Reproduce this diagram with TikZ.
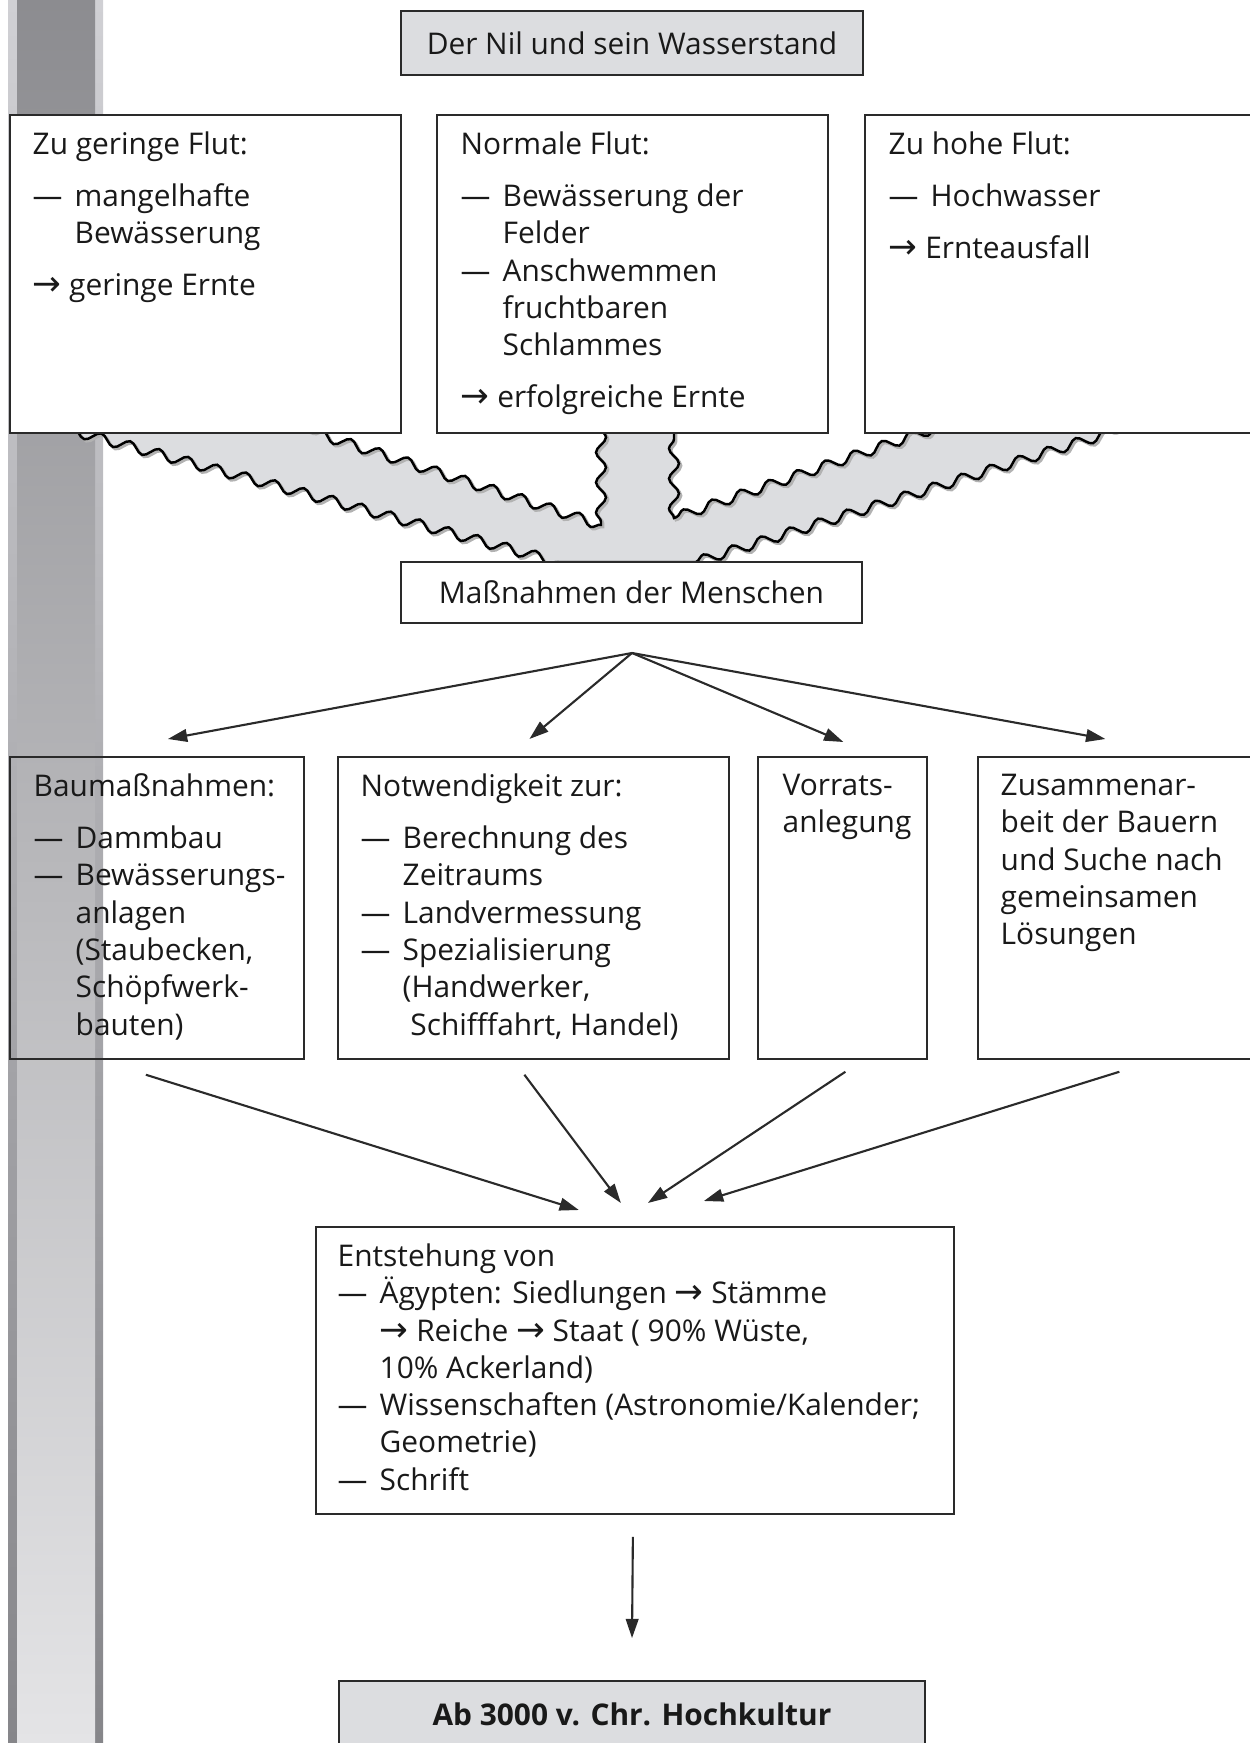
\documentclass[tikz,border=0pt]{standalone}
\usepackage{fontspec}
\setmainfont{Open Sans}
\newfontfamily\pfeilfont[Scale=1.15]{DejaVu Sans}
\usetikzlibrary{arrows.meta,decorations.pathmorphing}
\definecolor{hellgrau}{HTML}{DCDDE0}
\definecolor{linie}{HTML}{2A2A2A}
\definecolor{randoben}{HTML}{D0D0D4}
\definecolor{randunten}{HTML}{86868A}
\definecolor{innenoben}{HTML}{8C8C90}
\definecolor{innenunten}{HTML}{E4E4E6}
\newcommand{\pf}{{\pfeilfont →}}
\newcommand{\str}{\makebox[4.2mm][l]{—}}
\newcommand{\ein}{\hspace*{4.2mm}}
\newcommand{\oben}{\rule{0pt}{7.4pt}}
\newcommand{\wellen}{(62,428) decorate{-- (558,562)} -- (696,562) decorate{-- (1125,428)} -- (935,428) decorate{-- (674,518)} decorate{-- (674,428)} -- (601,428) decorate{-- (601,525)} decorate{-- (300,428)} -- cycle}
\begin{document}
\begin{tikzpicture}[x=0.1mm,y=-0.1mm]
\tikzstyle{every node}=[font=\fontsize{8.5}{10.6}\selectfont, text=black!90]
\tikzstyle{kasten}=[draw=linie, line width=0.5pt, fill=white, anchor=north west, inner sep=0pt]
\tikzstyle{grau}=[kasten, fill=hellgrau, anchor=center]
\tikzstyle{inhalt}=[anchor=north west, inner sep=0pt, align=left]
\tikzstyle{pfeil}=[draw=linie, line width=0.6pt, -{Triangle[length=5.5pt,width=3.6pt]}]
\tikzstyle{welle}=[decoration={snake,segment length=3mm,amplitude=0.5mm}]

\useasboundingbox (0,0) rectangle (1250,1743);
\shade[top color=randoben, bottom color=randunten] (8,0) rectangle (103,1743);
\shade[top color=innenoben, bottom color=innenunten] (17,0) rectangle (95,1743);

\fill[hellgrau, welle] \wellen;
\draw[welle, black!30, line width=0.8pt, shift={(2,2)}] \wellen;
\draw[welle, black, line width=0.7pt] \wellen;

\node[grau, minimum width=46.2mm, minimum height=6.4mm] (titel) at (632,43) {Der Nil und sein Wasserstand};

\node[kasten, minimum width=39.1mm, minimum height=31.8mm] (gering) at (9,114) {};
\node[inhalt] (gering-t) at ([shift={(23,14)}]gering.north west) {\oben Zu geringe Flut:\\[4.2pt]\str mangelhafte\\\ein Bewässerung\\[4.2pt]\pf\ geringe Ernte};
\node[kasten, minimum width=39.1mm, minimum height=31.8mm] (normal) at (436,114) {};
\node[inhalt] (normal-t) at ([shift={(24,14)}]normal.north west) {\oben Normale Flut:\\[4.2pt]\str Bewässerung der\\\ein Felder\\\str Anschwemmen\\\ein fruchtbaren\\\ein Schlammes\\[4.2pt]\pf\ erfolgreiche Ernte};
\node[kasten, minimum width=39.6mm, minimum height=31.8mm] (hoch) at (864,114) {};
\node[inhalt] (hoch-t) at ([shift={(24,14)}]hoch.north west) {\oben Zu hohe Flut:\\[4.2pt]\str Hochwasser\\[4.2pt]\pf\ Ernteausfall};

\node[kasten, anchor=center, minimum width=46.1mm, minimum height=6.1mm] (massn) at (631.5,592.5) {Maßnahmen der Menschen};

\node[kasten, fill=none, minimum width=29.4mm, minimum height=30.2mm] (bau) at (9,756) {};
\node[inhalt] (bau-t) at ([shift={(24,14)}]bau.north west) {\oben Baumaßnahmen:\\[4.2pt]\str Dammbau\\\str Bewässerungs-\\\ein anlagen\\\ein(Staubecken,\\\ein Schöpfwerk-\\\ein bauten)};
\node[kasten, minimum width=39.1mm, minimum height=30.2mm] (notw) at (337,756) {};
\node[inhalt] (notw-t) at ([shift={(23,14)}]notw.north west) {\oben Notwendigkeit zur:\\[4.2pt]\str Berechnung des\\\ein Zeitraums\\\str Landvermessung\\\str Spezialisierung\\\ein(Handwerker,\\\ein\ Schifffahrt, Handel)};
\node[kasten, minimum width=16.9mm, minimum height=30.2mm] (vorrat) at (757,756) {};
\node[inhalt] (vorrat-t) at ([shift={(25,13)}]vorrat.north west) {\oben Vorrats-\\anlegung};
\node[kasten, minimum width=28.3mm, minimum height=30.2mm] (zusam) at (977,756) {};
\node[inhalt] (zusam-t) at ([shift={(23,13)}]zusam.north west) {\oben Zusammenar-\\beit der Bauern\\und Suche nach\\gemeinsamen\\Lösungen};

\node[kasten, minimum width=63.8mm, minimum height=28.7mm] (entst) at (315,1226) {};
\node[inhalt] (entst-t) at ([shift={(22,14)}]entst.north west) {\oben Entstehung von\\\str Ägypten: Siedlungen \pf\ Stämme\\\ein\pf\ Reiche \pf\ Staat ( 90\% Wüste,\\\ein 10\% Ackerland)\\\str Wissenschaften (Astronomie/Kalender;\\\ein Geometrie)\\\str Schrift};

\node[grau, minimum width=58.6mm, minimum height=6.7mm] (kultur) at (632,1714.5) {\textbf{Ab 3000 v. Chr. Hochkultur}};

\coordinate (verteiler) at (632,653);
\draw[pfeil] (verteiler) -- ([shift={(11,-17)}]bau.north);
\draw[pfeil] (verteiler) -- ([shift={(-4,-17)}]notw.north);
\draw[pfeil] (verteiler) -- ([shift={(1,-14)}]vorrat.north);
\draw[pfeil] (verteiler) -- ([shift={(-14,-17)}]zusam.north);

\draw[pfeil] ([shift={(-11,15)}]bau.south) -- ([shift={(-56,-16)}]entst.north);
\draw[pfeil] ([shift={(-9,15)}]notw.south) -- ([shift={(-14,-23)}]entst.north);
\draw[pfeil] ([shift={(3,12)}]vorrat.south) -- ([shift={(13,-23)}]entst.north);
\draw[pfeil] ([shift={(0,12)}]zusam.south) -- ([shift={(69,-25)}]entst.north);

\draw[pfeil] ([shift={(-2,22)}]entst.south) -- ([shift={(0,-42)}]kultur.north);
\end{tikzpicture}
\end{document}
